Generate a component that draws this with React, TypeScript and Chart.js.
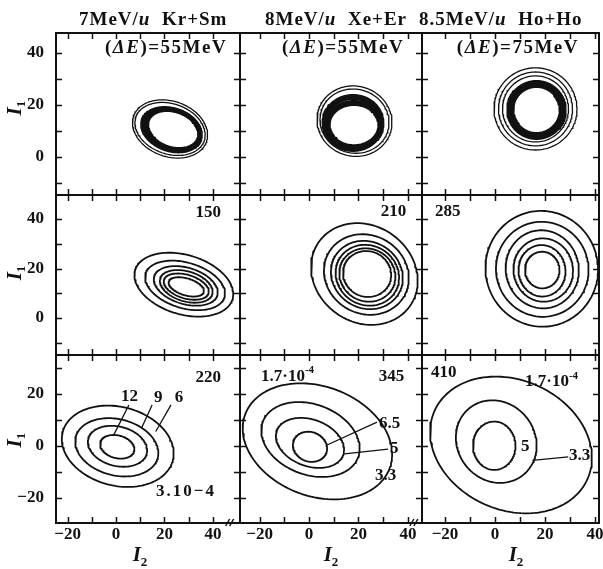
import { useEffect, useRef } from 'react';
import { Chart, registerables } from 'chart.js';

Chart.register(...registerables);

const W = 603;
const H = 569;
const FONT = '"Liberation Serif", "DejaVu Serif", "Times New Roman", serif';

// ---------------- data ----------------
const BEAM_ENERGIES = ['7', '8', '8.5']; // MeV/u
const SYSTEMS = ['Kr+Sm', 'Xe+Er', 'Ho+Ho'];
const ROW1_DELTA_E = [55, 55, 75]; // MeV
const ROW2_DELTA_E = [150, 210, 285];
const ROW3_DELTA_E = [220, 345, 410];
const X_TICKS = [-20, 0, 20, 40];
const Y_TICKS_UPPER = [0, 20, 40];
const Y_TICKS_LOWER = [-20, 0, 20];
const MINOR_STEP = 10;
const X_RANGES = [[-24.8, 51.2], [-27.9, 45.7], [-29.2, 41.6]];
const Y_RANGES = [[-14.6, 47.7], [-14.9, 49.7], [-29.6, 35.0]];

// contours: [I2 centre, I1 centre, semi-axis a, semi-axis b, tilt (deg)]
const R1C1_LINES = [[22.3, 10.8, 15.83, 10.73, -16], [22.3, 10.8, 14.83, 9.72, -16]];
const R1C1_BAND = [[22.9, 10.5, 12.18, 7.72, -16], [23.6, 10.6, 11.25, 7.33, -16]];
const R1C2_LINES = [[18.4, 13.8, 15.2, 13.5, -10], [18.4, 13.8, 14.0, 12.3, -10]];
const R1C2_BAND = [[17.8, 13.1, 11.5, 10.0, 0], [18.2, 12.3, 10.7, 8.5, 0]];
const R1C3_LINES = [[16.2, 18.5, 16.6, 15.8, 0], [16.2, 18.5, 14.8, 14.2, 0], [16.2, 18.5, 13.2, 12.7, 0]];
const R1C3_BAND = [[16.6, 18.1, 10.5, 10.0, 0]];

const R2C1 = [
  [28.0, 13.5, 20.94, 12.0, -16], [28.5, 13.2, 16.96, 9.2, -16], [28.8, 13.0, 13.57, 7.36, -16],
  [29.0, 12.8, 11.2, 6.07, -16], [29.0, 12.7, 9.58, 4.78, -16], [29.0, 12.6, 7.53, 3.43, -16],
];
const R2C2 = [
  [22.4, 17.8, 22.5, 19.5, -35], [23.2, 17.6, 17.6, 15.8, -30], [23.4, 17.4, 14.9, 13.4, -30],
  [23.6, 17.3, 13.1, 12.0, -30], [23.6, 17.4, 11.5, 10.6, -25], [23.5, 17.8, 9.8, 9.2, -20],
];
const R2C3 = [
  [18.7, 19.9, 22.5, 23.4, 10], [18.9, 19.7, 18.5, 19.2, 10], [18.9, 19.7, 14.6, 15.8, 10],
  [19.3, 19.4, 11.9, 12.8, 8], [18.8, 19.1, 9.4, 10.4, 5], [18.9, 19.4, 6.9, 7.4, 0],
];
const R3C1 = [[0.7, -0.1, 23.4, 15.2, -12], [0.3, -0.5, 17.4, 10.85, -12], [0.6, -0.1, 12.4, 7.6, -12], [0.5, -0.3, 7.17, 4.4, -12]];
const R3C2 = [[3.4, 1.8, 31.0, 21.2, -18], [0.6, 2.5, 20.45, 13.6, -18], [0.4, 1.2, 14.2, 9.0, -18], [0.4, -0.3, 7.0, 5.7, -15]];
const R3C3 = [[6.4, 0.4, 33.3, 25.1, -21], [0.5, 1.7, 16.8, 15.2, -40], [-0.3, 0.1, 8.5, 9.3, 0]];

const R3C1_LEVELS = ['3.10−4', '6', '9', '12'];
const R3C2_LEVELS = ['1.7·10^-4', '3.3', '5', '6.5'];
const R3C3_LEVELS = ['1.7·10^-4', '3.3', '5'];

// ---------------- layout & style ----------------
const COL_PX = [[56, 240], [240, 422], [422, 599]];
const ROW_PX = [[33, 195], [195, 355], [355, 523]];
const THIN = 1.3;
const LINE = 1.8;
const BAND_W = [5, 6, 8];
const INK = '#111';

const PANEL_CONTOURS = [
  [[R1C1_LINES, R1C1_BAND], [R1C2_LINES, R1C2_BAND], [R1C3_LINES, R1C3_BAND]],
  [[R2C1, []], [R2C2, []], [R2C3, []]],
  [[R3C1, []], [R3C2, []], [R3C3, []]],
];

type TextItem = { x: number; y: number; s: string; align: 'left' | 'right' | 'center'; size: number; rot?: number; sp?: number };
type Leader = number[][];

const TITLE_X = [-15.3, -17.8, -30.4];
const DELTA_E_X = [45.9, 38.5, 33.6];
const I1_Y = [18.8, 18.2, 2.3];
const I2_X = [9.9, 8.9, 8.4];
const BREAK_X = [46.5, 42.0]; // axis-break marks on the lower x axes

function panelTexts(r: number, c: number): { texts: TextItem[]; leaders: Leader[] } {
  const texts: TextItem[] = [];
  const leaders: Leader[] = [];
  if (r === 0) {
    texts.push({ x: TITLE_X[c], y: 52.5, s: `${BEAM_ENERGIES[c]}MeV/*u*  ${SYSTEMS[c]}`, align: 'left', size: 19, sp: 1 });
    texts.push({ x: DELTA_E_X[c], y: 41.9, s: `(*ΔE*)=${ROW1_DELTA_E[c]}MeV`, align: 'right', size: 19, sp: 1.5 });
  }
  if (r === 1) {
    const pos = [[43.4, 42.4, 'right'], [39.3, 42.9, 'right'], [-24.0, 42.9, 'left']][c];
    texts.push({ x: pos[0] as number, y: pos[1] as number, s: `${ROW2_DELTA_E[c]}`, align: pos[2] as any, size: 17 });
  }
  if (r === 2) {
    if (c === 0) {
      texts.push({ x: 43.4, y: 26.2, s: `${ROW3_DELTA_E[0]}`, align: 'right', size: 17 });
      texts.push({ x: 5.6, y: 19.0, s: R3C1_LEVELS[3], align: 'center', size: 17 });
      texts.push({ x: 17.4, y: 18.8, s: R3C1_LEVELS[2], align: 'center', size: 17 });
      texts.push({ x: 26.0, y: 18.8, s: R3C1_LEVELS[1], align: 'center', size: 17 });
      texts.push({ x: 16.5, y: -17.6, s: R3C1_LEVELS[0], align: 'left', size: 17, sp: 2 });
      leaders.push([[5.3, 15.8], [-1.1, 4.0]], [[14.9, 15.8], [10.5, 6.8]], [[22.7, 15.8], [16.4, 5.6]]);
    }
    if (c === 1) {
      texts.push({ x: -19.4, y: 26.7, s: R3C2_LEVELS[0], align: 'left', size: 17 });
      texts.push({ x: 38.5, y: 26.7, s: `${ROW3_DELTA_E[1]}`, align: 'right', size: 17 });
      texts.push({ x: 28.3, y: 8.8, s: R3C2_LEVELS[3], align: 'left', size: 17 });
      texts.push({ x: 32.8, y: -0.9, s: R3C2_LEVELS[2], align: 'left', size: 17 });
      texts.push({ x: 26.7, y: -11.2, s: R3C2_LEVELS[1], align: 'left', size: 17 });
      leaders.push([[7.3, 0.4], [27.5, 9.2]], [[14.4, -3.0], [32.0, -1.2]]);
    }
    if (c === 2) {
      texts.push({ x: -25.6, y: 28.1, s: `${ROW3_DELTA_E[2]}`, align: 'left', size: 17 });
      texts.push({ x: 12.0, y: 24.7, s: R3C3_LEVELS[0], align: 'left', size: 17 });
      texts.push({ x: 10.4, y: -0.3, s: R3C3_LEVELS[2], align: 'left', size: 17 });
      texts.push({ x: 29.6, y: -3.5, s: R3C3_LEVELS[1], align: 'left', size: 17 });
      leaders.push([[15.0, -5.5], [29.3, -4.2]]);
    }
    texts.push({ x: I2_X[c], y: -42.3, s: '*I*_2', align: 'center', size: 21 });
  }
  if (c === 0) {
    texts.push({ x: -41.6, y: I1_Y[r], s: '*I*_1', align: 'center', size: 21, rot: -Math.PI / 2 });
  }
  return { texts, leaders };
}

// ---------------- helpers ----------------
type Seg = { t: string; it: boolean; sup: boolean; sub: boolean };
function parse(s: string): Seg[] {
  const segs: Seg[] = [];
  let it = false;
  let mode = '';
  let buf = '';
  const push = () => {
    if (buf) segs.push({ t: buf, it, sup: mode === 'sup', sub: mode === 'sub' });
    buf = '';
  };
  for (const ch of s) {
    if (ch === '*') { push(); it = !it; }
    else if (ch === '^') { push(); mode = 'sup'; }
    else if (ch === '_') { push(); mode = 'sub'; }
    else buf += ch;
  }
  push();
  return segs;
}

function drawRich(ctx: CanvasRenderingContext2D, item: TextItem, px: number, py: number) {
  const segs = parse(item.s);
  const fontFor = (g: Seg) => `${g.it ? 'italic ' : ''}bold ${g.sup || g.sub ? Math.round(item.size * 0.62) : item.size}px ${FONT}`;
  ctx.save();
  (ctx as any).letterSpacing = `${item.sp || 0}px`;
  const widths = segs.map((g) => { ctx.font = fontFor(g); return ctx.measureText(g.t).width; });
  const total = widths.reduce((a, b) => a + b, 0);
  ctx.translate(px, py);
  if (item.rot) ctx.rotate(item.rot);
  let cx = item.align === 'right' ? -total : item.align === 'center' ? -total / 2 : 0;
  ctx.textAlign = 'left';
  ctx.textBaseline = 'middle';
  ctx.fillStyle = INK;
  segs.forEach((g, i) => {
    ctx.font = fontFor(g);
    const dy = g.sup ? -item.size * 0.35 : g.sub ? item.size * 0.3 : 0;
    ctx.fillText(g.t, cx, dy);
    cx += widths[i];
  });
  ctx.restore();
}

function ellipsePoints(e: number[]) {
  const [cx, cy, a, b, tilt] = e;
  const th = (tilt * Math.PI) / 180;
  const n = 140;
  const pts: { x: number; y: number }[] = [];
  for (let i = 0; i <= n; i++) {
    const t = (i / n) * Math.PI * 2;
    const u = a * Math.cos(t);
    const v = b * Math.sin(t);
    pts.push({ x: cx + u * Math.cos(th) - v * Math.sin(th), y: cy + u * Math.sin(th) + v * Math.cos(th) });
  }
  return pts;
}

const tickFmt = (v: any) => (Number(v) < 0 ? `−${-Number(v)}` : `${v}`);

function buildConfig(r: number, c: number): any {
  const [lines, band] = PANEL_CONTOURS[r][c];
  const datasets: any[] = [];
  (lines as number[][]).forEach((e) => datasets.push({
    data: ellipsePoints(e), showLine: true, pointRadius: 0, borderColor: INK,
    borderWidth: r === 0 ? THIN : LINE, fill: false, borderJoinStyle: 'round',
  }));
  (band as number[][]).forEach((e) => datasets.push({
    data: ellipsePoints(e), showLine: true, pointRadius: 0, borderColor: INK,
    borderWidth: BAND_W[c], fill: false, borderJoinStyle: 'round',
  }));
  const { texts, leaders } = panelTexts(r, c);
  const yTicks = r === 2 ? Y_TICKS_LOWER : Y_TICKS_UPPER;
  const showX = r === 2;
  const showY = c === 0;

  const deco = {
    id: 'deco' + r + c,
    afterDraw(chart: any) {
      const ctx = chart.ctx as CanvasRenderingContext2D;
      const { left, right, top, bottom } = chart.chartArea;
      const xs = chart.scales.x;
      const ys = chart.scales.y;
      ctx.save();
      ctx.strokeStyle = INK;
      ctx.lineWidth = 2;
      ctx.strokeRect(left, top, right - left, bottom - top);
      ctx.lineWidth = 1.5;
      ctx.beginPath();
      const TL = 6;
      for (let v = Math.ceil(xs.min / MINOR_STEP) * MINOR_STEP; v <= xs.max; v += MINOR_STEP) {
        const p = Math.round(xs.getPixelForValue(v)) + 0.5;
        if (p - left < 3 || right - p < 3) continue;
        ctx.moveTo(p, bottom); ctx.lineTo(p, bottom - TL);
        ctx.moveTo(p, top); ctx.lineTo(p, top + TL);
      }
      for (let v = Math.ceil(ys.min / MINOR_STEP) * MINOR_STEP; v <= ys.max; v += MINOR_STEP) {
        const p = Math.round(ys.getPixelForValue(v)) + 0.5;
        if (p - top < 3 || bottom - p < 3) continue;
        ctx.moveTo(left, p); ctx.lineTo(left + TL, p);
        ctx.moveTo(right, p); ctx.lineTo(right - TL, p);
      }
      // axis-break marks on the bottom axis
      if (r === 2 && c < 2) {
        const bx = xs.getPixelForValue(BREAK_X[c]);
        ctx.moveTo(bx - 3, bottom + 3); ctx.lineTo(bx + 1, bottom - 4);
        ctx.moveTo(bx + 1, bottom + 3); ctx.lineTo(bx + 5, bottom - 4);
      }
      ctx.stroke();
      ctx.lineWidth = 1.3;
      ctx.beginPath();
      leaders.forEach((l) => {
        ctx.moveTo(xs.getPixelForValue(l[0][0]), ys.getPixelForValue(l[0][1]));
        ctx.lineTo(xs.getPixelForValue(l[1][0]), ys.getPixelForValue(l[1][1]));
      });
      ctx.stroke();
      ctx.restore();
      texts.forEach((t) => drawRich(ctx, t, xs.getPixelForValue(t.x), ys.getPixelForValue(t.y)));
    },
  };

  const tickFont = { family: FONT, size: 17, weight: 'bold' as const };
  const xBand = H - ROW_PX[r][1];
  const yBand = COL_PX[c][0];
  return {
    type: 'scatter',
    data: { datasets },
    plugins: [deco],
    options: {
      responsive: false,
      maintainAspectRatio: false,
      devicePixelRatio: 1,
      animation: false,
      events: [],
      layout: {
        padding: {
          left: showY ? 0 : yBand,
          right: W - COL_PX[c][1],
          top: ROW_PX[r][0],
          bottom: showX ? 0 : xBand,
        },
      },
      plugins: { legend: { display: false }, tooltip: { enabled: false }, title: { display: false } },
      scales: {
        x: {
          type: 'linear', min: X_RANGES[c][0], max: X_RANGES[c][1],
          grid: { display: false }, border: { display: false },
          ticks: { display: showX, padding: -7, color: INK, font: tickFont, autoSkip: false, maxRotation: 0, callback: tickFmt },
          afterBuildTicks: (s: any) => { s.ticks = X_TICKS.map((v) => ({ value: v })); },
          afterFit: (s: any) => { s.height = showX ? xBand : 0; s.paddingLeft = 0; s.paddingRight = 0; },
        },
        y: {
          type: 'linear', min: Y_RANGES[r][0], max: Y_RANGES[r][1],
          grid: { display: false }, border: { display: false },
          ticks: { display: showY, padding: 4, color: INK, font: tickFont, autoSkip: false, callback: tickFmt },
          afterBuildTicks: (s: any) => { s.ticks = yTicks.map((v) => ({ value: v })); },
          afterFit: (s: any) => { s.width = showY ? yBand : 0; s.paddingTop = 0; s.paddingBottom = 0; },
        },
      },
    },
  };
}

function Panel({ r, c }: { r: number; c: number }) {
  const ref = useRef<HTMLCanvasElement>(null);
  useEffect(() => {
    const chart = new Chart(ref.current as HTMLCanvasElement, buildConfig(r, c));
    return () => chart.destroy();
  }, [r, c]);
  return <canvas ref={ref} width={W} height={H} style={{ position: 'absolute', left: 0, top: 0, width: W, height: H }} />;
}

export default function App() {
  const cells: { r: number; c: number }[] = [];
  for (let r = 0; r < 3; r++) for (let c = 0; c < 3; c++) cells.push({ r, c });
  return (
    <div style={{ position: 'fixed', left: 0, top: 0, width: W, height: H, background: '#fff', overflow: 'hidden' }}>
      {cells.map(({ r, c }) => <Panel key={`${r}-${c}`} r={r} c={c} />)}
    </div>
  );
}
